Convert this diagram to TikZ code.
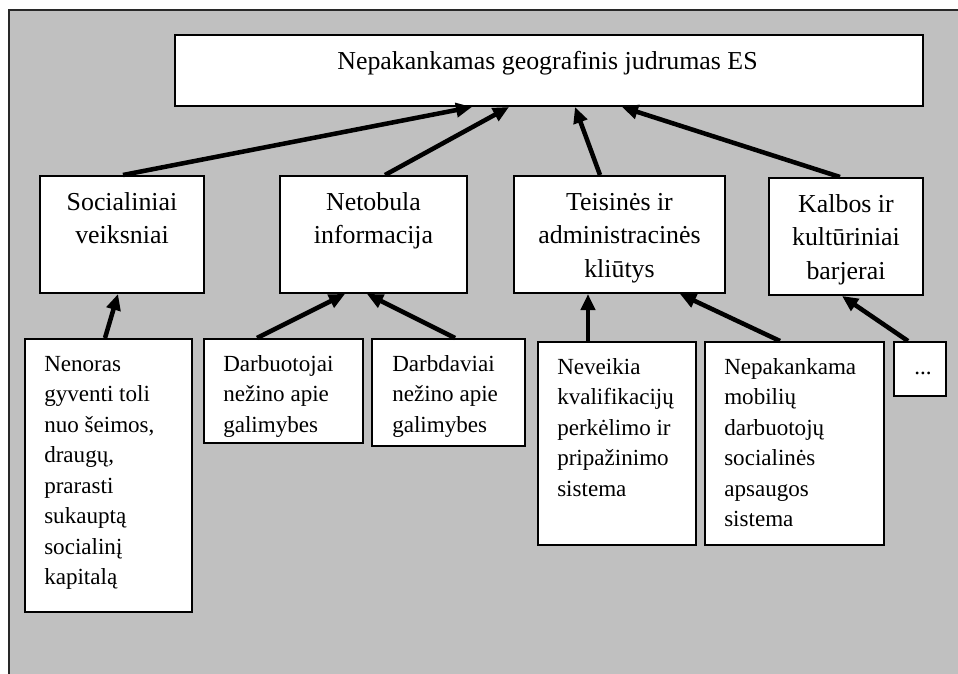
\documentclass[tikz,border=0pt]{standalone}
\usepackage{fontspec}
\setmainfont{Liberation Serif}
\usetikzlibrary{arrows.meta,calc}
\definecolor{bg}{RGB}{192,192,192}
\definecolor{frameline}{RGB}{40,40,40}
\tikzset{
  box/.style={draw=black, line width=1.5pt, fill=white, inner sep=0pt, anchor=north west},
  sz/.style 2 args={minimum width=#1*0.75pt, minimum height=#2*0.75pt},
  ttl/.style={font=\fontsize{19.4}{24}\selectfont, inner sep=0pt, anchor=base},
  lvltwo/.style={font=\fontsize{19.4}{25.1}\selectfont, inner sep=0pt, text width=150pt, align=flush center, anchor=north},
  lvlthree/.style={font=\fontsize{17.3}{22.9}\selectfont, inner sep=0pt, text width=112pt, align=flush left, anchor=north west},
  arr/.style={line width=3.4pt, -{Triangle[length=12pt,width=10.5pt]}}
}
\begin{document}
\begin{tikzpicture}[x=0.75pt,y=-0.75pt]
\useasboundingbox (0,0) rectangle (958,674);
\clip (0,0) rectangle (958,674);
% background frame
\fill[bg] (9,10) rectangle (990,700);
\draw[frameline, line width=1.5pt] (9,700) -- (9,10) -- (990,10);

% boxes
\node[box, sz={748}{71}]  (top)  at (174,34)  {};
\node[box, sz={164}{117}] (soc)  at (39,175)  {};
\node[box, sz={187}{117}] (net)  at (279,175) {};
\node[box, sz={211}{117}] (tei)  at (513,175) {};
\node[box, sz={154}{117}] (kal)  at (768,177) {};
\node[box, sz={167}{273}] (nen)  at (24,338)  {};
\node[box, sz={159}{104}] (dbt)  at (203,338) {};
\node[box, sz={153}{107}] (dbd)  at (371,338) {};
\node[box, sz={158}{203}] (nev)  at (537,341) {};
\node[box, sz={179}{203}] (nep)  at (704,341) {};
\node[box, sz={52}{54}]   (dots) at (893,341) {};

% texts
\node[ttl] (topt) at ($(top.north)+(-1.5,36)$) {Nepakankamas geografinis judrumas ES};
\node[lvltwo] (soct) at ($(soc.north)+(0,11.5)$) {\strut Socialiniai\\veiksniai};
\node[lvltwo] (nett) at ($(net.north)+(0,11.5)$) {\strut Netobula\\informacija};
\node[lvltwo] (teit) at ($(tei.north)+(0,11.5)$) {\strut Teisinės ir\\administracinės\\kliūtys};
\node[lvltwo] (kalt) at ($(kal.north)+(0,11.5)$) {\strut Kalbos ir\\kultūriniai\\barjerai};

\node[lvlthree] (nent) at ($(nen.north west)+(20,11.6)$) {\strut Nenoras\\gyventi toli\\nuo šeimos,\\draugų,\\prarasti\\sukauptą\\socialinį\\kapitalą};
\node[lvlthree] (dbtt) at ($(dbt.north west)+(20,11.6)$) {\strut Darbuotojai\\nežino apie\\galimybes};
\node[lvlthree] (dbdt) at ($(dbd.north west)+(21,11.6)$) {\strut Darbdaviai\\nežino apie\\galimybes};
\node[lvlthree] (nevt) at ($(nev.north west)+(20,11.6)$) {\strut Neveikia\\kvalifikacijų\\perkėlimo ir\\pripažinimo\\sistema};
\node[lvlthree] (nept) at ($(nep.north west)+(20,11.6)$) {\strut Nepakankama\\mobilių\\darbuotojų\\socialinės\\apsaugos\\sistema};
\node[lvlthree] (dotst) at ($(dots.north west)+(21,11.6)$) {\strut ...};

% arrows
\draw[arr] ($(soc.north west)+(84,0)$) -- ($(top.south west)+(298,0)$);
\draw[arr] ($(net.north west)+(106,0)$) -- ($(top.south west)+(335,0)$);
\draw[arr] ($(tei.north west)+(87,0)$) -- ($(top.south west)+(401,0)$);
\draw[arr] ($(kal.north west)+(72,0)$) -- ($(top.south west)+(448,0)$);

\draw[arr] ($(nen.north west)+(81,0)$) -- ($(soc.south west)+(79,0)$);
\draw[arr] ($(dbt.north west)+(54,0)$) -- ($(net.south west)+(66,0)$);
\draw[arr] ($(dbd.north west)+(84,0)$) -- ($(net.south west)+(88,0)$);
\draw[arr] ($(nev.north west)+(51,0)$) -- ($(tei.south west)+(75,0)$);
\draw[arr] ($(nep.north west)+(76,0)$) -- ($(tei.south west)+(167,0)$);
\draw[arr] ($(dots.north west)+(15,0)$) -- ($(kal.south west)+(74,0)$);
\end{tikzpicture}
\end{document}
